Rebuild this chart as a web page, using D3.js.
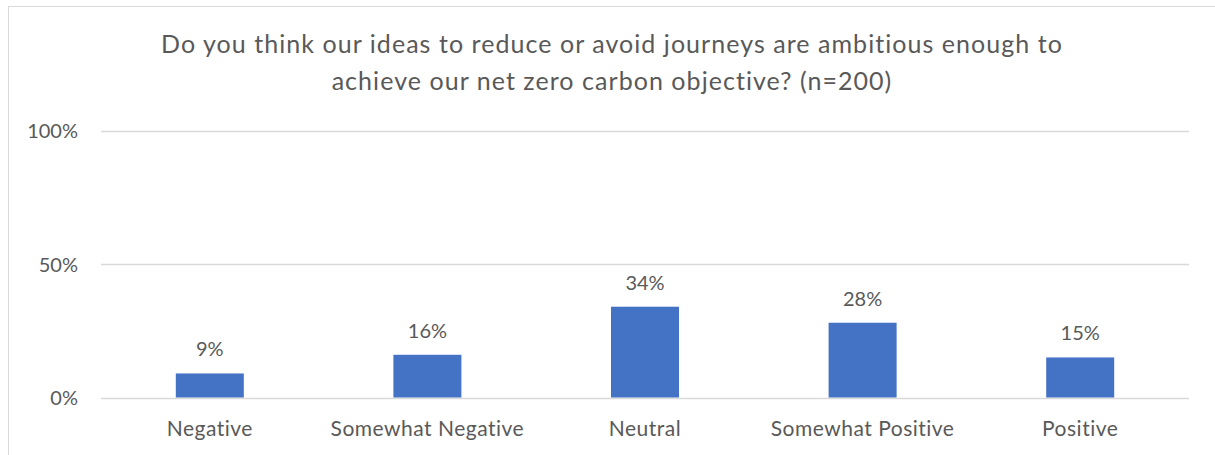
<!DOCTYPE html>
<html>
<head>
<meta charset="utf-8">
<script src="https://cdn.jsdelivr.net/npm/d3@7"></script>
<style>
  html, body { margin: 0; padding: 0; background: #fff; }
  svg { display: block; }
  text { font-family: Lato, "Open Sans", sans-serif; fill: #595959; }
</style>
</head>
<body>
<svg id="chart" width="1215" height="455"></svg>
<script>
const titleLines = [
  "Do you think our ideas to reduce or avoid journeys are ambitious enough to",
  "achieve our net zero carbon objective? (n=200)"
];
const categories = ["Negative", "Somewhat Negative", "Neutral", "Somewhat Positive", "Positive"];
const values = [9, 16, 34, 28, 15];
const yTicks = [0, 50, 100];

const svg = d3.select("#chart");
const W = 1215, H = 455;
const plot = { left: 101, right: 1189, top: 130.5, bottom: 397.5 };

// chart border (left and top visible)
svg.append("rect")
  .attr("x", 8.5).attr("y", 6.5)
  .attr("width", W + 20).attr("height", H + 20)
  .attr("fill", "none").attr("stroke", "#d9d9d9").attr("stroke-width", 1);

const x = d3.scaleBand().domain(categories).range([plot.left, plot.right]).paddingInner(0.6875).paddingOuter(0.34375);
const y = d3.scaleLinear().domain([0, 100]).range([plot.bottom, plot.top]);

// gridlines
svg.append("g").selectAll("line").data(yTicks).join("line")
  .attr("x1", plot.left).attr("x2", plot.right)
  .attr("y1", d => Math.round(y(d)) + 0.5).attr("y2", d => Math.round(y(d)) + 0.5)
  .attr("stroke", "#d9d9d9").attr("stroke-width", 1.5);

// y axis labels
const yAxis = d3.axisLeft(y).tickValues(yTicks).tickFormat(d => d + "%").tickSize(0).tickPadding(0);
const gy = svg.append("g").attr("transform", "translate(78,0)").call(yAxis);
gy.select(".domain").remove();
gy.selectAll("text").attr("font-size", 20).attr("font-family", "Lato").attr("fill", "#595959").attr("dy", "0.35em");

// bars
svg.append("g").selectAll("rect").data(values).join("rect")
  .attr("x", (d, i) => x(categories[i]))
  .attr("width", x.bandwidth())
  .attr("y", d => y(d))
  .attr("height", d => y(0) - y(d))
  .attr("fill", "#4472c4");

// value labels
svg.append("g").selectAll("text").data(values).join("text")
  .attr("x", (d, i) => x(categories[i]) + x.bandwidth() / 2)
  .attr("y", d => y(d) - 17)
  .attr("text-anchor", "middle")
  .attr("font-size", 20)
  .text(d => d + "%");

// x axis labels
const xAxis = d3.axisBottom(x).tickSize(0).tickPadding(0);
const gx = svg.append("g").attr("transform", `translate(0,${plot.bottom})`).call(xAxis);
gx.select(".domain").remove();
gx.selectAll("text").attr("font-size", 21).attr("font-family", "Lato").attr("fill", "#595959")
  .attr("letter-spacing", "0.5px")
  .attr("dy", null).attr("y", 38.5);

// title
svg.append("g").selectAll("text").data(titleLines).join("text")
  .attr("x", 612)
  .attr("y", (d, i) => 53 + i * 37)
  .attr("text-anchor", "middle")
  .attr("font-size", 25)
  .attr("letter-spacing", "1.05px")
  .text(d => d);
</script>
</body>
</html>
